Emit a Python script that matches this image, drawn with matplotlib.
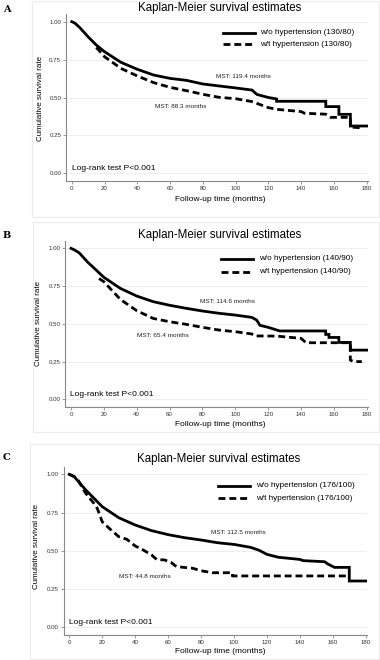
import matplotlib
matplotlib.use('Agg')
import matplotlib.pyplot as plt
from matplotlib.lines import Line2D
from matplotlib.patches import Rectangle

plt.rcParams['font.family'] = ['Liberation Sans', 'DejaVu Sans']

W, H = 380, 660

# survival data (months, survival rate)
a_t_wo = [0, 2, 5, 10, 15, 20, 30, 40, 50, 60, 70, 80, 90, 100, 110, 113, 120, 125, 125, 155, 155, 163, 163, 170, 170, 180]
a_s_wo = [1.0, 0.99, 0.96, 0.90, 0.846, 0.802, 0.732, 0.686, 0.648, 0.626, 0.613, 0.589, 0.576, 0.563, 0.549, 0.52, 0.50, 0.49, 0.475, 0.475, 0.44, 0.44, 0.389, 0.389, 0.312, 0.312]
a_t_wt = [15, 20, 30, 40, 50, 60, 70, 80, 90, 100, 110, 120, 125, 140, 142, 155, 158, 170, 170, 177]
a_s_wt = [0.83, 0.769, 0.692, 0.642, 0.598, 0.567, 0.545, 0.521, 0.501, 0.492, 0.473, 0.433, 0.422, 0.407, 0.396, 0.39, 0.369, 0.369, 0.305, 0.30]

b_t_wo = [0, 2, 5, 10, 20, 30, 40, 50, 60, 70, 80, 90, 100, 110, 113, 115, 120, 127, 155, 155, 157, 157, 163, 163, 170, 170, 180]
b_s_wo = [1.0, 0.99, 0.97, 0.91, 0.808, 0.735, 0.684, 0.647, 0.623, 0.603, 0.585, 0.57, 0.558, 0.543, 0.525, 0.49, 0.477, 0.453, 0.453, 0.43, 0.43, 0.41, 0.41, 0.377, 0.377, 0.326, 0.326]
b_t_wt = [17, 20, 30, 40, 50, 60, 70, 80, 90, 100, 110, 112, 125, 140, 143, 170, 170, 172, 177]
b_s_wt = [0.80, 0.779, 0.662, 0.587, 0.536, 0.514, 0.497, 0.477, 0.459, 0.448, 0.433, 0.42, 0.419, 0.404, 0.375, 0.375, 0.26, 0.25, 0.25]

c_t_wo = [0, 3, 10, 20, 30, 40, 50, 60, 70, 80, 90, 100, 110, 115, 120, 127, 140, 142, 155, 157, 161, 170, 170, 180]
c_s_wo = [1.0, 0.985, 0.898, 0.789, 0.717, 0.669, 0.632, 0.606, 0.586, 0.571, 0.553, 0.542, 0.523, 0.505, 0.477, 0.458, 0.444, 0.436, 0.429, 0.414, 0.392, 0.392, 0.303, 0.303]
c_t_wt = [0, 3, 5, 7, 10, 15, 17, 20, 25, 30, 35, 40, 45, 50, 53, 58, 62, 65, 75, 80, 87, 99, 99, 170]
c_s_wt = [1.0, 0.985, 0.97, 0.93, 0.876, 0.81, 0.778, 0.69, 0.64, 0.593, 0.575, 0.532, 0.505, 0.473, 0.444, 0.44, 0.423, 0.397, 0.386, 0.37, 0.357, 0.357, 0.336, 0.336]

labels = ['A', 'B', 'C']
bp = ['130/80', '140/90', '176/100']
mst_wo = [119.4, 114.6, 112.5]
mst_wt = [88.3, 65.4, 44.8]
yticks = [0, 0.25, 0.5, 0.75, 1.0]
xticks = [0, 20, 40, 60, 80, 100, 120, 140, 160, 180]

# pixel layout per panel
boxes = [(66, 14.1, 368.4, 180.9), (65.3, 240.8, 368.4, 406.9), (63.5, 466.7, 367.4, 635)]
frames = [(32, 1, 379, 217), (33, 222, 379, 432), (30, 444, 379, 659)]
title_y = [8, 235, 459]
title_x = [219.7, 219.7, 219]
leg = [(223, 255, 260, 33, 44), (221, 253, 259, 259, 271.7), (218, 250, 256, 485.7, 498.3)]
mst_pos = [((243, 76.7), (180.5, 106)), ((227.5, 301.7), (163.3, 336)), ((238.8, 532.7), (145, 576.7))]
logrank = [(71.7, 168.3), (70, 394), (69.3, 622.7)]
ylab = [(40, 98), (38, 323), (36, 546.7)]
xlab_y = [200, 425, 651.7]
lab_y = [10, 235, 458]

curves = [(a_t_wo, a_s_wo, a_t_wt, a_s_wt), (b_t_wo, b_s_wo, b_t_wt, b_s_wt), (c_t_wo, c_s_wo, c_t_wt, c_s_wt)]

fig = plt.figure(figsize=(W / 100, H / 100), dpi=100)


def fx(x):
    return x / W


def fy(y):
    return 1 - y / H


for i in range(3):
    fl, ft, fr, fb = frames[i]
    fig.add_artist(Rectangle((fx(fl), fy(fb)), fx(fr - fl), (fb - ft) / H, fill=False,
                             edgecolor='#ececec', lw=0.8, transform=fig.transFigure))
    l, t, r, b = boxes[i]
    ax = fig.add_axes([fx(l), fy(b), fx(r - l), (b - t) / H])
    tw, sw, tt, st = curves[i]
    ax.plot(tw, sw, color='black', lw=2.0, solid_joinstyle='miter')
    ax.plot(tt, st, color='black', lw=2.0, dashes=(2.5, 1.4))
    ax.set_xlim(-3.5, 181)
    ax.set_ylim(-0.05, 1.05)
    ax.set_xticks(xticks)
    ax.set_yticks(yticks)
    ax.set_yticklabels(['%.2f' % v for v in yticks])
    for v in yticks:
        ax.axhline(v, color='#eeeeee', lw=0.7, zorder=0)
    for s in ['top', 'right']:
        ax.spines[s].set_visible(False)
    for s in ['left', 'bottom']:
        ax.spines[s].set_color('#888888')
        ax.spines[s].set_linewidth(0.8)
    ax.tick_params(labelsize=4.4, length=2, width=0.6, color='#888888', pad=1.5, labelcolor='#333333')

    fig.text(fx(title_x[i]), fy(title_y[i]), 'Kaplan-Meier survival estimates', fontsize=8.3,
             ha='center', va='center')
    fig.text(fx(7), fy(lab_y[i]), labels[i], fontsize=7, fontweight='bold', family='DejaVu Serif',
             ha='center', va='center')
    x0, x1, xt, y1, y2 = leg[i]
    fig.add_artist(Line2D([fx(x0), fx(x1)], [fy(y1), fy(y1)], color='black', lw=2.0, transform=fig.transFigure))
    fig.add_artist(Line2D([fx(x0), fx(x1)], [fy(y2), fy(y2)], color='black', lw=2.0, dashes=(2.5, 1.4),
                          transform=fig.transFigure))
    fig.text(fx(xt), fy(y1), 'w/o hypertension (%s)' % bp[i], fontsize=5.9, ha='left', va='center')
    fig.text(fx(xt), fy(y2), 'w/t hypertension (%s)' % bp[i], fontsize=5.9, ha='left', va='center')
    (mx1, my1), (mx2, my2) = mst_pos[i]
    fig.text(fx(mx1), fy(my1), 'MST: %.1f months' % mst_wo[i], fontsize=4.6, ha='center', va='center',
             color='#222222')
    fig.text(fx(mx2), fy(my2), 'MST: %.1f months' % mst_wt[i], fontsize=4.6, ha='center', va='center',
             color='#222222')
    lx, ly = logrank[i]
    fig.text(fx(lx), fy(ly), 'Log-rank test P<0.001', fontsize=6, ha='left', va='center')
    yx, yy = ylab[i]
    fig.text(fx(yx), fy(yy), 'Cumulative survival rate', fontsize=5.8, rotation=90, ha='center', va='center')
    fig.text(fx(220), fy(xlab_y[i]), 'Follow-up time (months)', fontsize=6, ha='center', va='center')

fig.savefig('out.png', dpi=100)
